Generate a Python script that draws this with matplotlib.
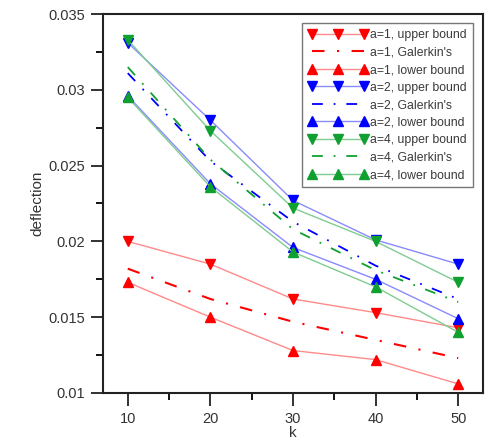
import matplotlib
matplotlib.use("Agg")
import matplotlib.pyplot as plt
from matplotlib.ticker import MultipleLocator, FuncFormatter

plt.rcParams['font.family'] = ['Liberation Sans', 'DejaVu Sans']

# k values and deflection curves
k = [10, 20, 30, 40, 50]

a1_upper = [0.0200, 0.0185, 0.0162, 0.0153, 0.0143]
a1_galerkin = [0.0182, 0.0162, 0.0147, 0.0135, 0.0123]
a1_lower = [0.0173, 0.0150, 0.0128, 0.0122, 0.0106]

a2_upper = [0.0331, 0.0280, 0.0227, 0.0201, 0.0185]
a2_galerkin = [0.0311, 0.0253, 0.0213, 0.0184, 0.0162]
a2_lower = [0.0296, 0.0238, 0.0196, 0.0175, 0.0149]

a4_upper = [0.0333, 0.0273, 0.0222, 0.0200, 0.0173]
a4_galerkin = [0.0315, 0.0254, 0.0208, 0.0181, 0.0160]
a4_lower = [0.0295, 0.0236, 0.0193, 0.0170, 0.0140]

fig = plt.figure(figsize=(4.92, 4.45), dpi=100)
ax = fig.add_axes([0.2093, 0.1169, 0.7724, 0.8516])

groups = [
    ("a=1", a1_upper, a1_galerkin, a1_lower, "#ff0000", "#ff8a8a", 1.5),
    ("a=2", a2_upper, a2_galerkin, a2_lower, "#0000ff", "#8a8aff", 1.3),
    ("a=4", a4_upper, a4_galerkin, a4_lower, "#10a030", "#80cc90", 1.3),
]

dashdot = (0, (6.0, 6.0, 1.0, 6.0))
for name, up, gal, low, c, lc, glw in groups:
    ax.plot(k, up, color=lc, lw=1.0, marker="v", ms=6.8,
            mfc=c, mec=c, label=name + ", upper bound")
    ax.plot(k, gal, color=c, lw=glw, linestyle=dashdot,
            label=name + ", Galerkin's")
    ax.plot(k, low, color=lc, lw=1.0, marker="^", ms=6.8,
            mfc=c, mec=c, label=name + ", lower bound")

ax.set_xlim(7, 53)
ax.set_ylim(0.01, 0.035)
ax.xaxis.set_major_locator(MultipleLocator(10))
ax.xaxis.set_minor_locator(MultipleLocator(5))
ax.yaxis.set_major_locator(MultipleLocator(0.005))
ax.yaxis.set_minor_locator(MultipleLocator(0.0025))
ax.yaxis.set_major_formatter(FuncFormatter(lambda v, p: "%g" % round(v, 4)))

ax.tick_params(which="major", direction="out", length=9, width=1.3,
               labelsize=10.5, colors="#222222", labelcolor="#333333",
               top=False, right=False)
ax.tick_params(which="minor", direction="out", length=4.8, width=1.3,
               top=False, right=False)
ax.tick_params(axis="x", which="major", pad=5)
ax.tick_params(axis="y", which="major", pad=4)
for s in ax.spines.values():
    s.set_linewidth(1.5)
    s.set_color("#222222")

ax.set_xlabel("k", fontsize=11, labelpad=0, color="#333333")
ax.set_ylabel("deflection", fontsize=11, labelpad=3, color="#333333")

leg = ax.legend(loc="upper right", bbox_to_anchor=(0.974, 0.976),
                borderaxespad=0, numpoints=3, markerscale=1.1,
                fontsize=8.8, handlelength=4.9, labelspacing=0.45,
                handletextpad=0.2, borderpad=0.5, fancybox=False,
                framealpha=1, edgecolor="#777777")
leg.get_frame().set_linewidth(1.0)
for t in leg.get_texts():
    t.set_color("#3a3a3a")

fig.savefig("out.png", dpi=100)
